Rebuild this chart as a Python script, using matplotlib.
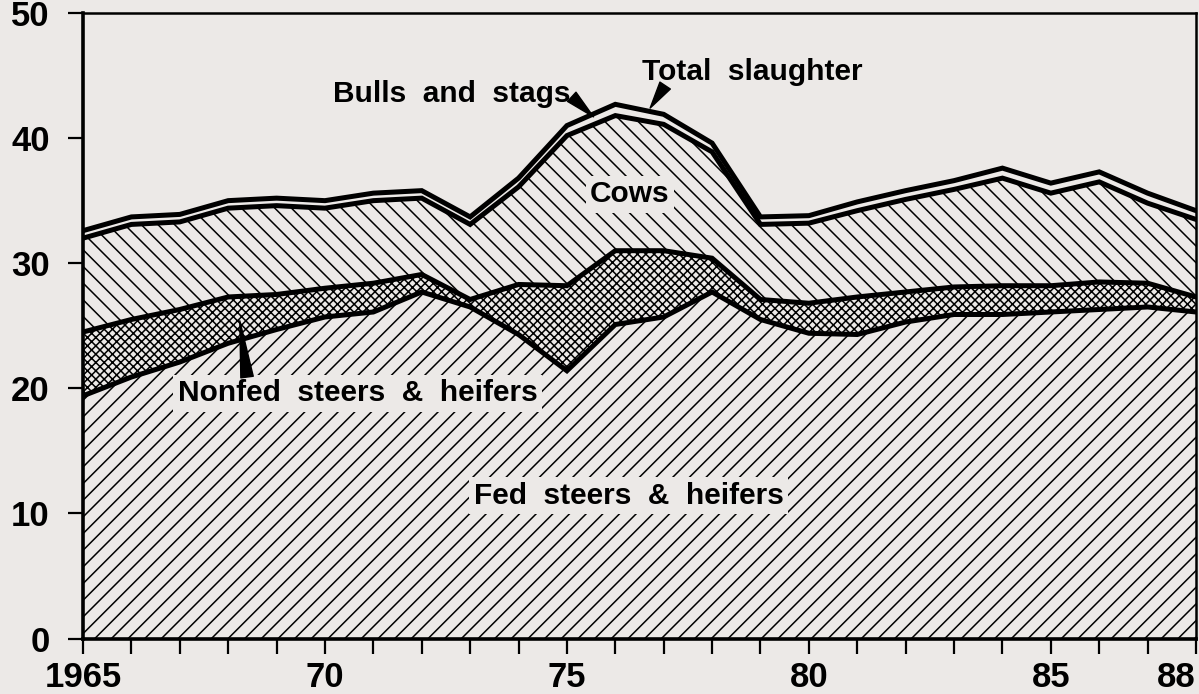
import matplotlib
matplotlib.use("Agg")
import matplotlib.pyplot as plt
import numpy as np

# Commercial cattle slaughter by class, million head
years = list(range(1965, 1989))
fed = [19.4, 20.9, 22.1, 23.6, 24.7, 25.7, 26.1, 27.7, 26.5, 24.3, 21.4, 25.1,
       25.7, 27.7, 25.5, 24.4, 24.3, 25.3, 25.9, 25.9, 26.1, 26.3, 26.5, 26.1]
nonfed = [5.1, 4.6, 4.2, 3.7, 2.8, 2.3, 2.3, 1.4, 0.6, 4.0, 6.8, 5.9,
          5.3, 2.7, 1.6, 2.4, 3.0, 2.4, 2.2, 2.3, 2.1, 2.2, 1.9, 1.2]
cows = [7.5, 7.6, 7.0, 7.1, 7.1, 6.4, 6.6, 6.1, 6.0, 7.8, 12.0, 10.8,
        10.1, 8.5, 6.0, 6.4, 6.9, 7.4, 7.8, 8.6, 7.4, 8.0, 6.4, 6.2]
bulls = [0.6, 0.6, 0.6, 0.6, 0.6, 0.6, 0.6, 0.6, 0.6, 0.7, 0.8, 0.9,
         0.8, 0.7, 0.6, 0.6, 0.7, 0.7, 0.7, 0.8, 0.8, 0.8, 0.8, 0.7]

tick_labels = {1965: "1965", 1970: "70", 1975: "75", 1980: "80", 1985: "85", 1988: "88"}

BG = "#ece9e7"
FONT = "Liberation Sans"

plt.rcParams["hatch.linewidth"] = 1.1
plt.rcParams["hatch.color"] = "black"
plt.rcParams["font.family"] = [FONT, "DejaVu Sans"]
plt.rcParams["font.weight"] = "bold"

fig = plt.figure(figsize=(11.99, 6.94), dpi=100, facecolor=BG)
ax = fig.add_axes([83 / 1199, 55.5 / 694, 1113 / 1199, 625.5 / 694])
ax.set_facecolor(BG)

x = np.array(years)
layers = [fed, nonfed, cows, bulls]
hatches = ["//", "xxxx", "\\\\", None]
bottom = np.zeros(len(x))
tops = []
for vals, h in zip(layers, hatches):
    top = bottom + np.array(vals)
    ax.fill_between(x, bottom, top, facecolor=BG, edgecolor="black",
                    hatch=h, linewidth=0, zorder=1)
    tops.append(top)
    bottom = top

for top in tops:
    ax.plot(x, top, color="black", lw=3.6, solid_joinstyle="miter", zorder=3)

ax.set_xlim(1965, 1988)
ax.set_ylim(0, 50)
ax.set_yticks(range(0, 51, 10))
ax.set_xticks(years)
ax.set_xticklabels([tick_labels.get(y, "") for y in years])
ax.get_xticklabels()[-1].set_horizontalalignment("right")
ax.get_xticklabels()[-1].set_x(1988.3)

ax.tick_params(axis="both", direction="out", length=11, width=1.6,
               labelsize=25, color="black")
ax.tick_params(axis="x", pad=5)
ax.tick_params(axis="y", pad=13)
for lbl in ax.get_xticklabels() + ax.get_yticklabels():
    lbl.set_fontweight("bold")

for side in ["left", "bottom"]:
    ax.spines[side].set_linewidth(2.6)
for side in ["top", "right"]:
    ax.spines[side].set_linewidth(1.8)

box = dict(boxstyle="square,pad=0.15", facecolor=BG, edgecolor="none")
txt = dict(fontsize=21.5, fontweight="bold", ha="center", va="center", zorder=5)

ax.text(1972.63, 43.5, "Bulls  and  stags", **txt)
ax.text(1978.83, 45.25, "Total  slaughter", **txt)
ax.text(1976.3, 35.5, "Cows", bbox=box, **txt)
ax.text(1970.67, 19.6, "Nonfed  steers  &  heifers", bbox=box, **txt)
ax.text(1976.28, 11.4, "Fed  steers  &  heifers", bbox=box, **txt)

wedge = dict(arrowstyle="wedge,tail_width=0.9,shrink_factor=0.5",
             facecolor="black", edgecolor="black", shrinkA=0, shrinkB=0)
ax.annotate("", xy=(1975.55, 41.7), xytext=(1975.1, 43.3), arrowprops=wedge, zorder=6)
ax.annotate("", xy=(1976.72, 42.4), xytext=(1977.03, 44.2), arrowprops=wedge, zorder=6)
ax.annotate("", xy=(1968.24, 25.4), xytext=(1968.39, 20.9), arrowprops=wedge, zorder=6)

fig.savefig("out.png", dpi=100, facecolor=BG)
